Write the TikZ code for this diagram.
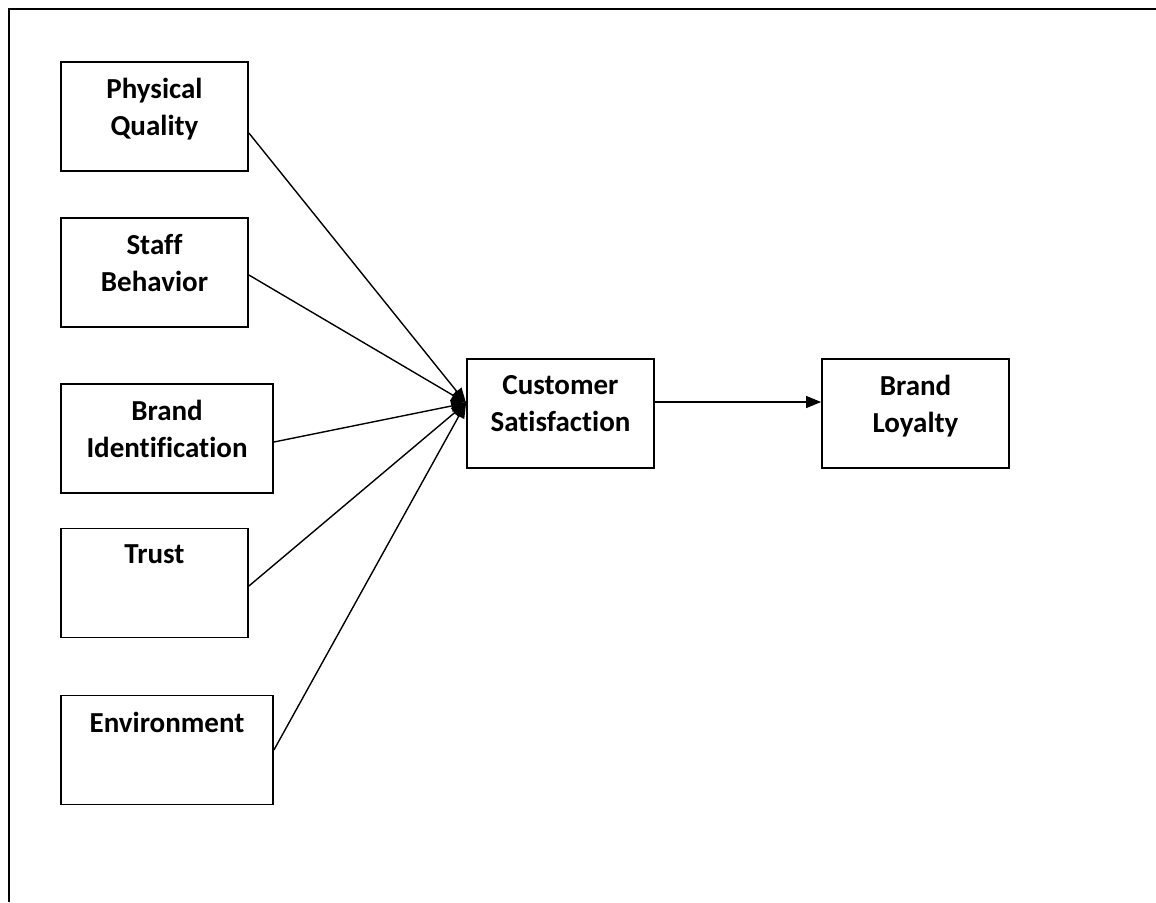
\documentclass[tikz,border=0pt]{standalone}
\usepackage{fontspec}
\setmainfont{Carlito}[Ligatures=NoCommon]
\usetikzlibrary{arrows.meta,positioning}

\begin{document}
\begin{tikzpicture}[x=0.5pt,y=-0.5pt,
  box/.style={draw,line width=0.9pt,minimum width=93.5pt,minimum height=54.5pt,inner sep=0pt},
  wide/.style={box,minimum width=106pt},
  lbl/.style={font=\fontsize{14.5}{18.5}\selectfont\bfseries,align=center,inner sep=0pt},
  arr/.style={-{Triangle[length=7.5pt,width=6pt]},line width=0.7pt}
]
\useasboundingbox (0,0) rectangle (1156,902);
% frame
\draw[line width=1pt] (9,902) -- (9,9) -- (1156,9);

% factors
\node[box]  (pq)  at (154.5,116.5) {};
\node[box]  (sb)  at (154.5,272.5) {};
\node[wide] (bi)  at (167,438.5) {};
\node[box]  (tr)  at (154.5,583) {};
\node[wide] (env) at (167,750) {};
% outcomes
\node[box]  (cs)  at (560.5,413.5) {};
\node[box]  (bl)  at (915.5,413.5) {};

\node[lbl,below=8.5pt of pq.north]  (pq-t)  {Physical\\Quality};
\node[lbl,below=8.5pt of sb.north]  (sb-t)  {Staff\\Behavior};
\node[lbl,below=8.5pt of bi.north]  (bi-t)  {Brand\\Identification};
\node[lbl,below=8.5pt of tr.north]  (tr-t)  {Trust};
\node[lbl,below=8.5pt of env.north] (env-t) {Environment};
\node[lbl,below=8.5pt of cs.north]  (cs-t)  {Customer\\Satisfaction};
\node[lbl,below=8.5pt of bl.north]  (bl-t)  {Brand\\Loyalty};

\coordinate (hub) at ([yshift=5.25pt]cs.west);
\draw[arr] ([yshift=-8.25pt]pq.east) -- (hub);
\draw[arr] ([yshift=-1.25pt]sb.east) -- (hub);
\draw[arr] ([yshift=-1.75pt]bi.east) -- (hub);
\draw[arr] ([yshift=-1.5pt]tr.east) -- (hub);
\draw[arr] (env.east) -- (hub);
\draw[arr] ([yshift=5.75pt]cs.east) -- ([yshift=5.75pt]bl.west);
\end{tikzpicture}
\end{document}
